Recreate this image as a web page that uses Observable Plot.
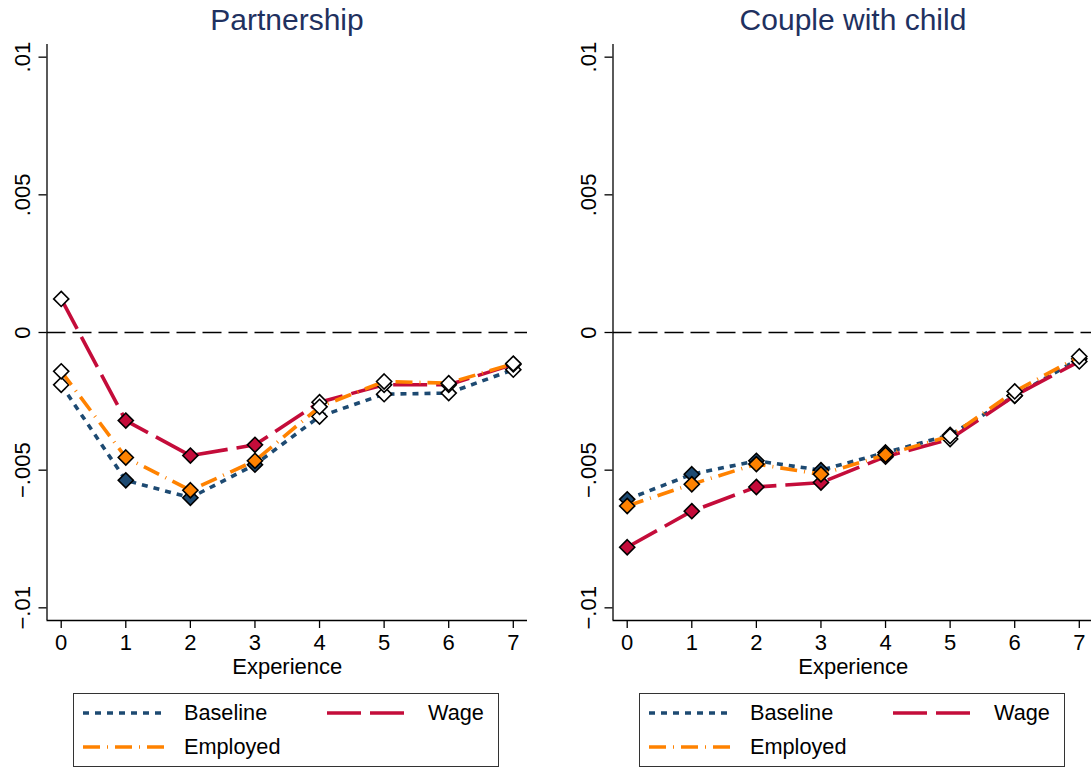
<!DOCTYPE html>
<html>
<head>
<meta charset="utf-8">
<script src="https://cdn.jsdelivr.net/npm/d3@7"></script>
<script src="https://cdn.jsdelivr.net/npm/@observablehq/plot@0.6"></script>
<style>
  html, body { margin: 0; padding: 0; background: #fff; overflow: hidden; }
  #root { position: relative; width: 1091px; height: 768px; overflow: hidden; font-family: "Liberation Sans", Arial, sans-serif; }
  .panel { position: absolute; top: 0; width: 545px; height: 700px; }
  .panel svg { max-width: none !important; width: 545px; height: 700px; }
  .title { position: absolute; width: 400px; text-align: center; font-size: 30px; line-height: 34px; color: #1f3160; white-space: nowrap; }
  .legend { position: absolute; border: 1px solid #333; box-sizing: border-box; }
  .ltext { position: absolute; font-size: 21.7px; line-height: 30px; color: #000; white-space: nowrap; }
  .lsample { position: absolute; }
</style>
</head>
<body>
<div id="root"></div>
<script>
// ---- data ----
const experience = [0, 1, 2, 3, 4, 5, 6, 7];
const panelTitles = ["Partnership", "Couple with child"];
const seriesNames = ["Baseline", "Wage", "Employed"];
const seriesColors = ["#1d4a72", "#c40c3a", "#ff8200"];

const partnershipBaseline = [-0.0019, -0.00537, -0.0060, -0.0048, -0.00305, -0.00224, -0.0022, -0.00135];
const partnershipWage     = [0.00122, -0.0032, -0.00447, -0.00408, -0.00253, -0.0019, -0.0019, -0.00116];
const partnershipEmployed = [-0.00141, -0.00454, -0.00573, -0.00466, -0.0027, -0.00178, -0.00184, -0.00113];
const partnershipSignificant = [false, true, true, true, false, false, false, false];

const coupleBaseline = [-0.00606, -0.00515, -0.00466, -0.0050, -0.00436, -0.00372, -0.0023, -0.00095];
const coupleWage     = [-0.0078, -0.00649, -0.00561, -0.00545, -0.00451, -0.00387, -0.00229, -0.00105];
const coupleEmployed = [-0.0063, -0.00551, -0.00478, -0.00515, -0.00444, -0.00376, -0.00214, -0.00087];
const coupleSignificant = [true, true, true, true, true, false, false, false];

const yTicks = [0.01, 0.005, 0, -0.005, -0.01];
const yTickLabels = [".01", ".005", "0", "\u2212.005", "\u2212.01"];
const xLabel = "Experience";

// ---- styles ----
const dashes = ["6,6", "34,9", "17,7,1,7"];
const FONT = '"Liberation Sans", Arial, sans-serif';
const xDomain = [-0.22, 7.22];
const yDomain = [-0.01046, 0.01046];

function makePanel(seriesValues, significant) {
  const marks = [
    Plot.ruleY([0], {stroke: "#000", strokeWidth: 1.5, strokeDasharray: "19,7"}),
    Plot.ruleX([xDomain[0]], {stroke: "#000", strokeWidth: 1.3}),
    Plot.ruleY([yDomain[0]], {stroke: "#000", strokeWidth: 1.3}),
    Plot.axisX({ticks: experience, tickSize: 8, tickPadding: 6, label: null, tickFormat: d => String(d), stroke: "#000", strokeWidth: 1.3, fill: "#000"}),
    Plot.axisY({ticks: yTicks, tickSize: 8, label: null, tickFormat: () => "", stroke: "#000", strokeWidth: 1.3}),
    Plot.text(yTicks, {y: d => d, text: (d, i) => yTickLabels[i], frameAnchor: "left", dx: -24.5, rotate: -90, textAnchor: "middle", lineAnchor: "middle", fill: "#000"}),
    Plot.text([xLabel], {frameAnchor: "bottom", dy: 46.4, lineAnchor: "middle", textAnchor: "middle", fill: "#000"})
  ];
  seriesValues.forEach((vals, s) => {
    const rows = experience.map((x, i) => ({x, y: vals[i], sig: significant[i]}));
    marks.push(Plot.line(rows, {x: "x", y: "y", stroke: seriesColors[s], strokeWidth: 3.6, strokeDasharray: dashes[s], strokeLinecap: "butt", strokeLinejoin: "round"}));
    marks.push(Plot.dot(rows, {filter: d => d.sig, x: "x", y: "y", symbol: "diamond2", r: 6.8, fill: seriesColors[s], stroke: "#000", strokeWidth: 1.6}));
    marks.push(Plot.dot(rows, {filter: d => !d.sig, x: "x", y: "y", symbol: "diamond2", r: 6.8, fill: "#fff", stroke: "#000", strokeWidth: 1.6}));
  });
  return Plot.plot({
    width: 545,
    height: 700,
    marginTop: 44,
    marginBottom: 80,
    marginLeft: 46.5,
    marginRight: 18,
    x: {domain: xDomain},
    y: {domain: yDomain},
    style: {fontFamily: FONT, fontSize: "22px", background: "transparent", overflow: "visible", maxWidth: "none"},
    marks
  });
}

const root = document.getElementById("root");
const panels = [
  {left: 0, values: [partnershipBaseline, partnershipWage, partnershipEmployed], sig: partnershipSignificant},
  {left: 566, values: [coupleBaseline, coupleWage, coupleEmployed], sig: coupleSignificant}
];

panels.forEach((p, k) => {
  const wrap = document.createElement("div");
  wrap.className = "panel";
  wrap.style.left = p.left + "px";
  wrap.appendChild(makePanel(p.values, p.sig));
  root.appendChild(wrap);

  const t = document.createElement("div");
  t.className = "title";
  t.textContent = panelTitles[k];
  t.style.left = (p.left + 287 - 200) + "px";
  t.style.top = "2.6px";
  root.appendChild(t);

  // legend
  const boxLeft = p.left + 73;
  const lg = document.createElement("div");
  lg.className = "legend";
  lg.style.left = boxLeft + "px";
  lg.style.top = "693px";
  lg.style.width = "426px";
  lg.style.height = "74px";
  root.appendChild(lg);

  const entries = [
    {s: 0, sx: 10, tx: 111, cy: 713},
    {s: 1, sx: 254, tx: 355, cy: 713},
    {s: 2, sx: 10, tx: 111, cy: 747}
  ];
  entries.forEach(e => {
    const svgNS = "http://www.w3.org/2000/svg";
    const sv = document.createElementNS(svgNS, "svg");
    sv.setAttribute("class", "lsample");
    sv.setAttribute("width", 84);
    sv.setAttribute("height", 10);
    sv.style.left = (boxLeft + e.sx) + "px";
    sv.style.top = (e.cy - 5) + "px";
    const ln = document.createElementNS(svgNS, "line");
    ln.setAttribute("x1", 0); ln.setAttribute("x2", 84);
    ln.setAttribute("y1", 5); ln.setAttribute("y2", 5);
    ln.setAttribute("stroke", seriesColors[e.s]);
    ln.setAttribute("stroke-width", 3.6);
    ln.setAttribute("stroke-dasharray", dashes[e.s]);
    sv.appendChild(ln);
    root.appendChild(sv);
    const tx = document.createElement("div");
    tx.className = "ltext";
    tx.textContent = seriesNames[e.s];
    tx.style.left = (boxLeft + e.tx) + "px";
    tx.style.top = (e.cy - 15) + "px";
    root.appendChild(tx);
  });
});
</script>
</body>
</html>
